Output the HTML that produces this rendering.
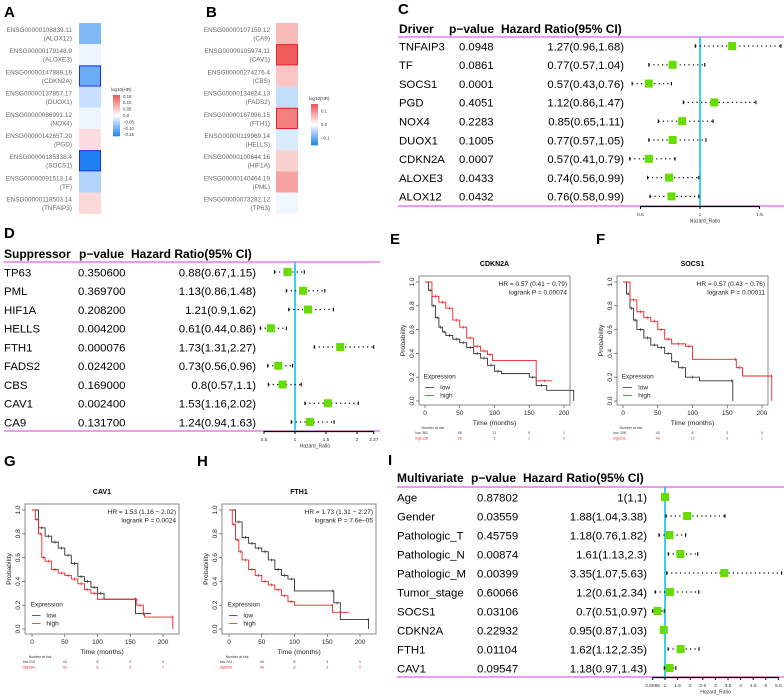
<!DOCTYPE html>
<html><head><meta charset="utf-8"><style>
body{margin:0;background:#fff}
svg{display:block;font-family:"Liberation Sans",sans-serif}
</style></head><body>
<svg id="fig" width="784" height="700" viewBox="0 0 784 700" xmlns="http://www.w3.org/2000/svg">
<g font-weight="bold" font-size="15" fill="#000">
<text x="4" y="17">A</text>
<text x="206" y="17">B</text>
<text x="398" y="14">C</text>
<text x="4" y="238">D</text>
<text x="390" y="244">E</text>
<text x="596" y="244">F</text>
<text x="4" y="466">G</text>
<text x="197" y="466">H</text>
<text x="388" y="465">I</text>
</g>
</svg>
<script>
const svg=document.getElementById('fig');
const NS='http://www.w3.org/2000/svg';
function mk(tag,attrs,parent){const e=document.createElementNS(NS,tag);for(const k in attrs)e.setAttribute(k,attrs[k]);(parent||svg).appendChild(e);return e;}
function tx(x,y,s,attrs,parent){const e=mk('text',Object.assign({x:x,y:y},attrs||{}),parent);e.textContent=s;return e;}

// ---- Heatmap data ----
const hmAIds=['ENSG00000108839.11','ENSG00000179148.9','ENSG00000147889.16','ENSG00000137857.17','ENSG00000086991.12','ENSG00000142657.20','ENSG00000185338.4','ENSG00000091513.14','ENSG00000118503.14'];
const hmAGenes=['ALOX12','ALOXE3','CDKN2A','DUOX1','NOX4','PGD','SOCS1','TF','TNFAIP3'];
const hmAVals=[-0.09,-0.012,-0.105,-0.04,-0.012,0.032,-0.16,-0.055,0.035];
const hmASig=[0,0,1,0,0,0,1,0,0];
const hmBIds=['ENSG00000107159.12','ENSG00000105974.11','ENSG00000274276.4','ENSG00000134824.13','ENSG00000167996.15','ENSG00000119969.14','ENSG00000100644.16','ENSG00000140464.19','ENSG00000073282.12'];
const hmBGenes=['CA9','CAV1','CBS','FADS2','FTH1','HELLS','HIF1A','PML','TP63'];
const hmBVals=[0.06,0.14,0.05,-0.04,0.11,-0.025,0.04,0.08,-0.01];
const hmBSig=[0,1,0,0,1,0,0,0,0];

function hcol(v,m){const t=Math.max(-1,Math.min(1,v/m));
 if(t>=0){const r=255-Math.round(t*(255-240)),g=255-Math.round(t*(255-80)),b=255-Math.round(t*(255-80));return `rgb(${r},${g},${b})`;}
 const a=-t;return `rgb(${255-Math.round(a*(255-30))},${255-Math.round(a*(255-128))},${255-Math.round(a*(255-242))})`;}

function heatmap(ids,genes,vals,sig,cx,tx0,m,sigCol,name){
 const g=mk('g',{});
 
 
 for(let i=0;i<vals.length;i++){
  const y=23+i*21.2;
  const r=mk('rect',{x:cx,y:y,width:22,height:21.2,fill:hcol(vals[i],m)},g);
  
  
  if(sig[i]){mk('rect',{x:cx+0.5,y:y+0.5,width:21,height:20.2,fill:'none',stroke:sigCol,'stroke-width':1},g);}
  const t1=tx(tx0,y+9,ids[i],{'font-size':'6.4','text-anchor':'end',fill:'#666'},g);
  
  
  tx(tx0,y+17.5,'('+genes[i]+')',{'font-size':'6.4','text-anchor':'end',fill:'#666'},g);
 }
}
heatmap(hmAIds,hmAGenes,hmAVals,hmASig,79,72,0.16,'#1a2ee8','heatmap-a');
heatmap(hmBIds,hmBGenes,hmBVals,hmBSig,276,270,0.15,'#e82020','heatmap-b');

function hlegend(x,y,h,ticks,m,name){
 const g=mk('g',{});
 
 
 tx(x-2,y-4,'log10(HR)',{'font-size':'4.5',fill:'#333'},g);
 const n=30;for(let i=0;i<n;i++){const v=m-(2*m)*(i+0.5)/n;mk('rect',{x:x,y:y+i*h/n,width:7,height:h/n+0.3,fill:hcol(v,m)},g);}
 ticks.forEach(v=>{const yy=y+(m-v)/(2*m)*h;tx(x+10,yy+1.5,v.toFixed(v===0||Math.abs(v)>=0.1&&ticks.length<4?1:2).replace('-','\u2212'),{'font-size':'4.3',fill:'#333'},g);});
}
hlegend(113,95,41,[0.15,0.10,0.05,0.00,-0.05,-0.10,-0.15],0.16,'legend-a');
hlegend(311,104,41,[0.1,0.0,-0.1],0.15,'legend-b');

// ---- Forest C ----
const fcNames=['TNFAIP3','TF','SOCS1','PGD','NOX4','DUOX1','CDKN2A','ALOXE3','ALOX12'];
const fcP=['0.0948','0.0861','0.0001','0.4051','0.2283','0.1005','0.0007','0.0433','0.0432'];
const fcHR=[1.27,0.77,0.57,1.12,0.85,0.77,0.57,0.74,0.76];
const fcLo=[0.96,0.57,0.43,0.86,0.65,0.57,0.41,0.56,0.58];
const fcHi=[1.68,1.04,0.76,1.47,1.11,1.05,0.79,0.99,0.99];
const fcTicks=['0.5','1','1.5'];
// ---- Forest D ----
const fdNames=['TP63','PML','HIF1A','HELLS','FTH1','FADS2','CBS','CAV1','CA9'];
const fdP=['0.350600','0.369700','0.208200','0.004200','0.000076','0.024200','0.169000','0.002400','0.131700'];
const fdHR=[0.88,1.13,1.21,0.61,1.73,0.73,0.8,1.53,1.24];
const fdLo=[0.67,0.86,0.9,0.44,1.31,0.56,0.57,1.16,0.94];
const fdHi=[1.15,1.48,1.62,0.86,2.27,0.96,1.1,2.02,1.63];
const fdTicks=['0.5','1','1.5','2','2.27'];
// ---- Forest I ----
const fiNames=['Age','Gender','Pathologic_T','Pathologic_N','Pathologic_M','Tumor_stage','SOCS1','CDKN2A','FTH1','CAV1'];
const fiP=['0.87802','0.03559','0.45759','0.00874','0.00399','0.60066','0.03106','0.22932','0.01104','0.09547'];
const fiHR=[1,1.88,1.18,1.61,3.35,1.2,0.7,0.95,1.62,1.18];
const fiLo=[1,1.04,0.76,1.13,1.07,0.61,0.51,0.87,1.12,0.97];
const fiHi=[1,3.38,1.82,2.3,5.63,2.34,0.97,1.03,2.35,1.43];
const fiHRtxt=['1(1,1)','1.88(1.04,3.38)','1.18(0.76,1.82)','1.61(1.13,2.3)','3.35(1.07,5.63)','1.2(0.61,2.34)','0.7(0.51,0.97)','0.95(0.87,1.03)','1.62(1.12,2.35)','1.18(0.97,1.43)'];
const fiTicks=['0.5086','1','1.5','2','2.5','3','3.5','4','4.5','5','5.5'];

function fmtHR(h,l,u){return h+'('+l+','+u+')';}
function forest(o){
 const g=mk('g',{});
 
 
 const X=v=>o.x1+(v-1)*o.sc;
 const hx=[o.cN,o.cP,o.cH];
 o.heads.forEach((h,i)=>{const t=tx(hx[i],o.hy,h,{'font-size':o.hfs,'font-weight':'bold'},g);});
 mk('line',{x1:o.lx0,x2:o.lx1,y1:o.topL,y2:o.topL,stroke:'#e060e0','stroke-width':1.2},g);
 mk('line',{x1:o.lx0,x2:o.lx1,y1:o.botL,y2:o.botL,stroke:'#e060e0','stroke-width':1.2},g);
 mk('line',{x1:X(1),x2:X(1),y1:o.topL,y2:o.botL,stroke:'#3cd0f0','stroke-width':2},g);
 for(let i=0;i<o.names.length;i++){
  const y=o.r0+i*o.rs;
  tx(o.cN,y+4.3,o.names[i],{'font-size':o.fs},g);
  tx(o.cP2,y+4.3,o.p[i],{'font-size':o.fs},g);
  tx(o.hrR,y+4.3,o.hrt?o.hrt[i]:fmtHR(o.hr[i],o.lo[i],o.hi[i]),{'font-size':o.fs,'text-anchor':'end'},g);
  if(o.hi[i]>o.lo[i]){
   mk('line',{x1:X(o.lo[i]),x2:X(o.hi[i]),y1:y,y2:y,stroke:'#000','stroke-width':1.2,'stroke-dasharray':'1.2,3.2'},g);
   mk('line',{x1:X(o.lo[i]),x2:X(o.lo[i]),y1:y-1.8,y2:y+1.8,stroke:'#000','stroke-width':1.1},g);
   mk('line',{x1:X(o.hi[i]),x2:X(o.hi[i]),y1:y-1.8,y2:y+1.8,stroke:'#000','stroke-width':1.1},g);
  }
  const s=mk('rect',{x:X(o.hr[i])-o.bs/2,y:y-o.bs/2,width:o.bs,height:o.bs,fill:'#66dd00'},g);
  
  
 }
 const ax0=X(parseFloat(o.ticks[0])),ax1=X(parseFloat(o.ticks[o.ticks.length-1]));
 mk('line',{x1:ax0,x2:ax1,y1:o.botL+0.5,y2:o.botL+0.5,stroke:'#000','stroke-width':1.2},g);
 o.ticks.forEach(t=>{const xx=X(parseFloat(t));mk('line',{x1:xx,x2:xx,y1:o.botL,y2:o.botL+3,stroke:'#000','stroke-width':1},g);tx(xx,o.botL+10,t,{'font-size':'4.8','text-anchor':'middle',fill:'#333'},g);});
 const al=tx((ax0+ax1)/2+o.axOff,o.botL+16.5,'Hazard_Ratio',{'font-size':'5','text-anchor':'middle',fill:'#333'},g);
 
 
}
forest({name:'forest-plot-driver',heads:['Driver','p\u2212value','Hazard Ratio(95% CI)'],names:fcNames,p:fcP,hr:fcHR,lo:fcLo,hi:fcHi,ticks:fcTicks,
 cN:399,cP:449,cH:501,cP2:459,hrR:624,hy:33,hfs:12,fs:11.3,topL:37,botL:206,lx0:398,lx1:784,x1:700,sc:119,r0:46,rs:18.8,bs:8,axOff:5});
forest({name:'forest-plot-suppressor',heads:['Suppressor','p\u2212value','Hazard Ratio(95% CI)'],names:fdNames,p:fdP,hr:fdHR,lo:fdLo,hi:fdHi,ticks:fdTicks,
 cN:4,cP:79,cH:131,cP2:78,hrR:256,hy:258,hfs:12,fs:11.4,topL:262,botL:431,lx0:4,lx1:380,x1:295,sc:62,r0:272,rs:18.75,bs:8,axOff:-4});
forest({name:'forest-plot-multivariate',heads:['Multivariate','p\u2212value','Hazard Ratio(95% CI)'],names:fiNames,p:fiP,hr:fiHR,lo:fiLo,hi:fiHi,hrt:fiHRtxt,ticks:fiTicks,
 cN:397,cP:471,cH:523,cP2:477,hrR:647,hy:482,hfs:12,fs:11.4,topL:487,botL:677,lx0:397,lx1:784,x1:665,sc:25.2,r0:497,rs:19,bs:8,axOff:0});

// ---- KM data ----
const keT_low=[0,5,10,15,20,25,30,40,50,60,70,80,90,100,110,150,160,175,214];
const keS_low=[1,0.93,0.8,0.7,0.62,0.58,0.55,0.52,0.49,0.45,0.4,0.36,0.3,0.25,0.23,0.2,0.13,0.09,0.0];
const keT_high=[0,10,20,30,40,50,60,70,80,90,97,160,183];
const keS_high=[1,0.88,0.83,0.78,0.68,0.62,0.53,0.46,0.42,0.39,0.34,0.17,0.17];
const kfT_low=[0,5,10,15,20,30,40,50,60,70,80,90,110,155,158];
const kfS_low=[1,0.9,0.78,0.68,0.6,0.53,0.47,0.45,0.4,0.33,0.28,0.2,0.17,0.17,0.0];
const kfT_high=[0,10,20,30,40,50,60,70,90,100,160,163,172,213,214];
const kfS_high=[1,0.85,0.75,0.7,0.67,0.6,0.52,0.48,0.46,0.35,0.35,0.28,0.21,0.21,0.0];
const kgT_low=[0,10,20,30,40,50,60,70,80,90,100,110,157,158,182];
const kgS_low=[1,0.85,0.78,0.73,0.68,0.62,0.55,0.44,0.4,0.35,0.3,0.25,0.25,0.13,0.13];
const kgT_high=[0,5,10,15,20,30,40,50,60,70,80,90,100,157,160,170,172,214,215];
const kgS_high=[1,0.92,0.8,0.6,0.57,0.5,0.47,0.45,0.42,0.38,0.33,0.3,0.25,0.25,0.2,0.12,0.1,0.1,0.0];
const khT_low=[0,10,20,30,40,50,60,70,80,90,100,157,160,170,212,213];
const khS_low=[1,0.9,0.77,0.72,0.68,0.65,0.58,0.5,0.45,0.42,0.32,0.32,0.22,0.08,0.08,0.0];
const khT_high=[0,5,10,15,20,30,40,50,60,70,80,90,100,157,158,183];
const khS_high=[1,0.88,0.75,0.65,0.58,0.5,0.45,0.4,0.37,0.33,0.28,0.23,0.2,0.2,0.14,0.14];
const kmXTicks=[0,50,100,150,200];
const kmYTicks=['0.0','0.2','0.4','0.6','0.8','1.0'];

function km(o){
 const g=mk('g',{});
 
 
 const X=t=>o.t0+t*o.ts, Y=s=>o.p0+(o.p1-o.p0)*s;
 const tt=tx((o.bx0+o.bx1)/2,o.by0-10,o.title,{'font-size':'7','font-weight':'bold','text-anchor':'middle'},g);
 
 
 mk('rect',{x:o.bx0,y:o.by0,width:o.bx1-o.bx0,height:o.by1-o.by0,fill:'none',stroke:'#888','stroke-width':1},g);
 function curve(T,S,col,nm){
  let d='M'+X(T[0])+','+Y(S[0]);
  for(let i=1;i<T.length;i++){d+=' H'+X(T[i])+' V'+Y(S[i]);}
  const p=mk('path',{d:d,fill:'none',stroke:col,'stroke-width':0.9},g);
  
  
  for(let i=1;i<T.length-1;i++){const xm=X((T[i]+T[i+1])/2);if(T[i+1]-T[i]<30)mk('line',{x1:xm,x2:xm,y1:Y(S[i])-1.5,y2:Y(S[i])+1.5,stroke:col,'stroke-width':0.7},g);}
 }
 curve(o.lt,o.ls,'#333','km-curve-low');
 curve(o.ht,o.hs,'#ee2222','km-curve-high');
 kmXTicks.forEach(t=>{mk('line',{x1:X(t),x2:X(t),y1:o.by1,y2:o.by1+3,stroke:'#555','stroke-width':0.7},g);tx(X(t),o.by1+10,String(t),{'font-size':'6.5','text-anchor':'middle',fill:'#222'},g);});
 kmYTicks.forEach(s=>{const y=Y(parseFloat(s));mk('line',{x1:o.bx0-3,x2:o.bx0,y1:y,y2:y,stroke:'#555','stroke-width':0.7},g);tx(0,0,s,{'font-size':'6.5','text-anchor':'middle',fill:'#222',transform:`translate(${o.bx0-5},${y}) rotate(-90)`},g);});
 tx((o.bx0+o.bx1)/2,o.by1+20,'Time (months)',{'font-size':'6.8','text-anchor':'middle',fill:'#222'},g);
 tx(0,0,'Probability',{'font-size':'6.8','text-anchor':'middle',fill:'#222',transform:`translate(${o.bx0-14},${(o.by0+o.by1)/2}) rotate(-90)`},g);
 tx(o.bx1-3,o.by0+10,o.hr,{'font-size':'6.5','text-anchor':'end',fill:'#222'},g);
 tx(o.bx1-3,o.by0+18.5,o.lr,{'font-size':'6.5','text-anchor':'end',fill:'#222'},g);
 const ly=Y(0.19);
 tx(X(-2),ly,'Expression',{'font-size':'6.5',fill:'#222'},g);
 mk('line',{x1:X(0),x2:X(13),y1:ly+9,y2:ly+9,stroke:'#333','stroke-width':0.8},g);
 tx(X(22),ly+11,'low',{'font-size':'6.5',fill:'#222'},g);
 mk('line',{x1:X(0),x2:X(13),y1:ly+17,y2:ly+17,stroke:'#ee2222','stroke-width':0.8},g);
 tx(X(22),ly+19,'high',{'font-size':'6.5',fill:'#222'},g);
 tx(X(-5),o.by1+24,'Number at risk',{'font-size':'3.5',fill:'#333'},g);
 tx(X(-14),o.by1+29,'low',{'font-size':'3.5',fill:'#333'},g);
 tx(X(-14),o.by1+34.5,'high',{'font-size':'3.5',fill:'#e22'},g);
 kmXTicks.forEach((t,i)=>{tx(X(t),o.by1+29,o.rl[i],{'font-size':'3.5','text-anchor':'middle',fill:'#333'},g);tx(X(t),o.by1+34.5,o.rh[i],{'font-size':'3.5','text-anchor':'middle',fill:'#e22'},g);});
}
km({name:'km-plot-cdkn2a',title:'CDKN2A',bx0:419,bx1:570,by0:276,by1:405,t0:425,ts:0.695,p1:282,p0:401,lt:keT_low,ls:keS_low,ht:keT_high,hs:keS_high,hr:'HR = 0.57 (0.41 \u2212 0.79)',lr:'logrank P = 0.00074',rl:['381','58','11','5','1'],rh:['138','28','5','2','0']});
km({name:'km-plot-socs1',title:'SOCS1',bx0:617,bx1:768,by0:276,by1:405,t0:623,ts:0.695,p1:282,p0:401,lt:kfT_low,ls:kfS_low,ht:kfT_high,hs:kfS_high,hr:'HR = 0.57 (0.43 \u2212 0.76)',lr:'logrank P = 0.00011',rl:['208','43','6','2','0'],rh:['211','43','13','5','1']});
km({name:'km-plot-cav1',title:'CAV1',bx0:25,bx1:179,by0:504,by1:634,t0:32,ts:0.655,p1:510,p0:629,lt:kgT_low,ls:kgS_low,ht:kgT_high,hs:kgS_high,hr:'HR = 1.53 (1.16 \u2212 2.02)',lr:'logrank P = 0.0024',rl:['215','43','8','2','0'],rh:['284','43','8','5','1']});
km({name:'km-plot-fth1',title:'FTH1',bx0:222,bx1:376,by0:504,by1:634,t0:229,ts:0.655,p1:510,p0:629,lt:khT_low,ls:khS_low,ht:khT_high,hs:khS_high,hr:'HR = 1.73 (1.31 \u2212 2.27)',lr:'logrank P = 7.6e\u221205',rl:['244','40','8','4','1'],rh:['255','46','8','3','0']});
</script>
</body></html>
